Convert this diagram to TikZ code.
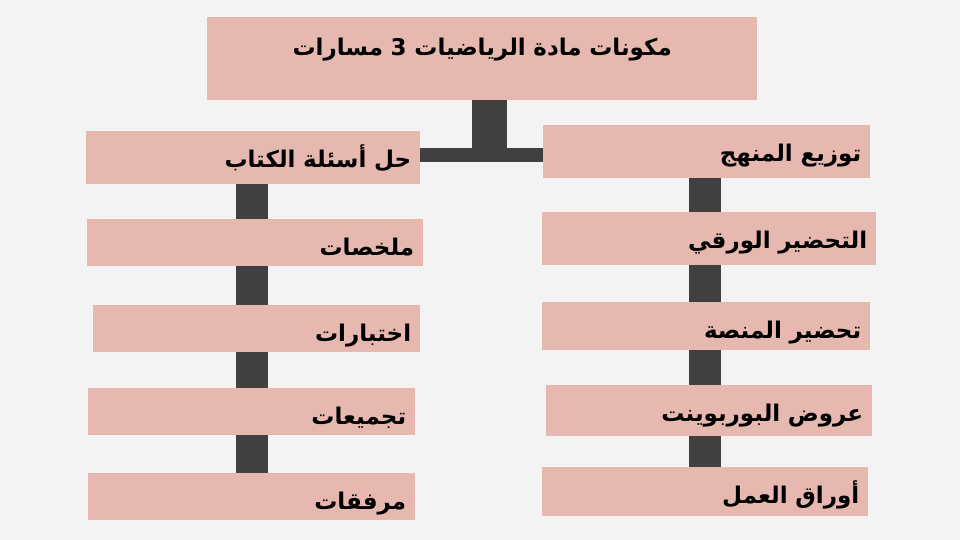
\documentclass[tikz,border=0pt]{standalone}
\usepackage{fontspec}
\TeXXeTstate=1
\newfontfamily\arabicfont[Script=Arabic]{DejaVu Sans}
\usetikzlibrary{backgrounds}
\definecolor{boxfill}{HTML}{E6B8AF}
\definecolor{barcol}{HTML}{404040}
\definecolor{bgcol}{HTML}{F3F3F3}
\tikzset{
  pbox/.style={fill=boxfill, anchor=north west, inner xsep=9pt, inner ysep=0pt,
    align=right, font=\arabicfont\bfseries\fontsize{23}{26}\selectfont, text height=36pt},
  vbar/.style={draw=barcol, line width=32pt},
  hbar/.style={draw=barcol, line width=14pt},
}
\begin{document}
\begin{tikzpicture}[x=1pt,y=-1pt]
\useasboundingbox (0,0) rectangle (960,540);
% title
\node[pbox, align=center, text width=532pt, text height=38pt, text depth=45pt] (T) at (207,17)
  {\beginR مكونات مادة الرياضيات 3 مسارات\endR};
% left column
\node[pbox, text width=316pt, text depth=17pt] (L1) at (86,131) {\beginR حل أسئلة الكتاب\endR};
\node[pbox, text width=318pt, text depth=11pt] (L2) at (87,219) {\beginR ملخصات\endR};
\node[pbox, text width=309pt, text depth=11pt] (L3) at (93,305) {\beginR اختبارات\endR};
\node[pbox, text width=309pt, text depth=11pt] (L4) at (88,388) {\beginR تجميعات\endR};
\node[pbox, text width=309pt, text depth=11pt] (L5) at (88,473) {\beginR مرفقات\endR};
% right column
\node[pbox, text width=309pt, text depth=17pt] (R1) at (543,125) {\beginR توزيع المنهج\endR};
\node[pbox, text width=316pt, text depth=17pt] (R2) at (542,212) {\beginR التحضير الورقي\endR};
\node[pbox, text width=310pt, text depth=12pt] (R3) at (542,302) {\beginR تحضير المنصة\endR};
\node[pbox, text width=308pt, text depth=15pt] (R4) at (546,385) {\beginR عروض البوربوينت\endR};
\node[pbox, text width=308pt, text depth=13pt] (R5) at (542,467) {\beginR أوراق العمل\endR};
% connectors
\coordinate (J) at (489,155);
\coordinate (lx) at (252,0);
\coordinate (rx) at (705,0);
\begin{scope}[on background layer]
  \fill[bgcol] (0,0) rectangle (960,540);
  \draw[barcol, line width=35pt] (T.south -| J) -- ([yshift=7pt]J);
  \draw[hbar] (L1.east |- J) -- (R1.west |- J);
  \draw[vbar] (L1.center -| lx) -- (L5.center -| lx);
  \draw[vbar] (R1.center -| rx) -- (R5.center -| rx);
\end{scope}
\end{tikzpicture}
\end{document}
